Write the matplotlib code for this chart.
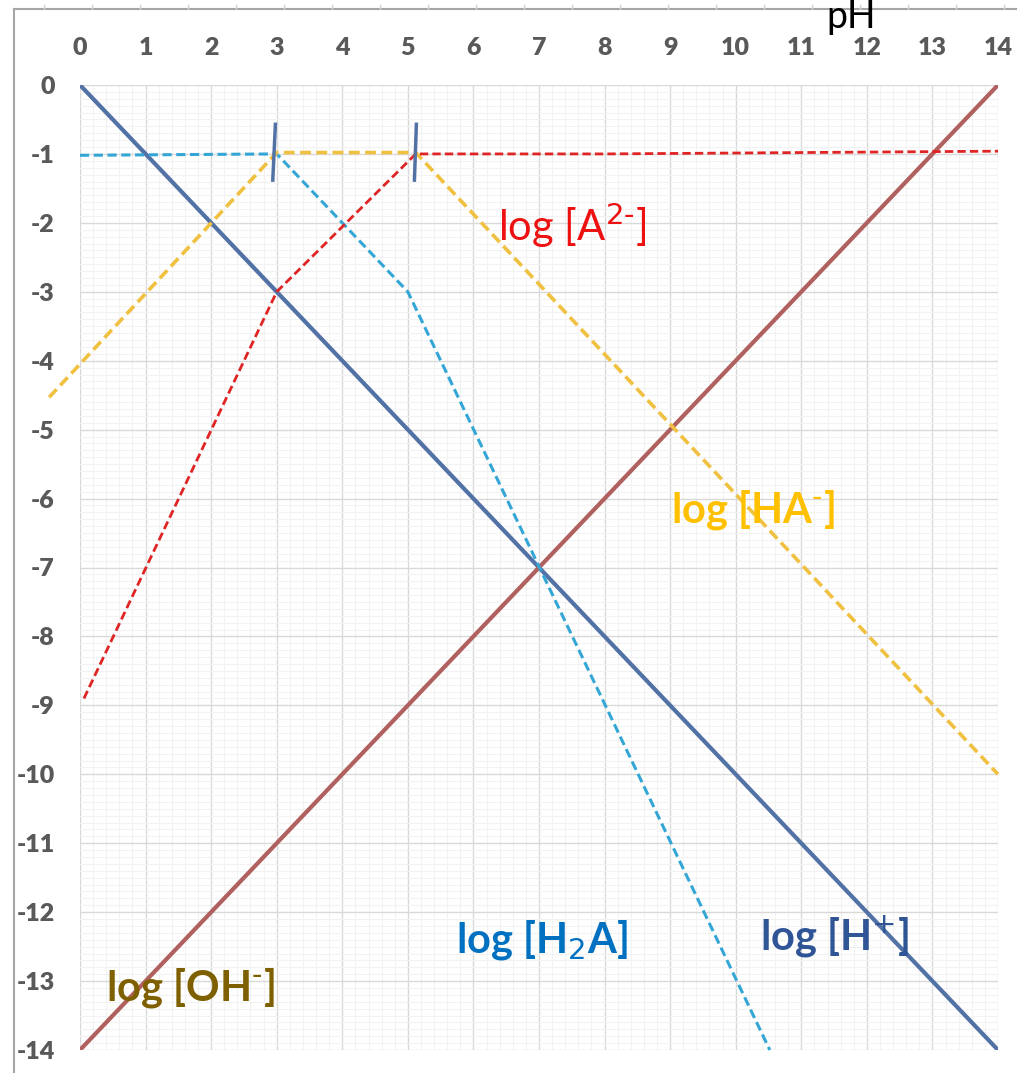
import matplotlib
matplotlib.use("Agg")
import matplotlib.pyplot as plt
from matplotlib.lines import Line2D
import numpy as np

plt.rcParams['font.family'] = ['Lato', 'DejaVu Sans']
plt.rcParams['axes.unicode_minus'] = False

# ---- data ----
ph_ticks = list(range(0, 15))
log_ticks = list(range(0, -15, -1))

h_x = [0, 14]
h_y = [0, -14]
oh_x = [0, 14]
oh_y = [-14, 0]
h2a_x = [0.0, 3.0, 5.0, 10.52]
h2a_y = [-1.02, -1.0, -3.0, -14.0]
ha_x = [-0.47, 3.0, 5.12, 14.0]
ha_y = [-4.53, -0.98, -0.98, -10.0]
a_x = [0.06, 3.0, 5.12, 8.0, 14.0]
a_y = [-8.9, -3.0, -1.0, -1.0, -0.96]
mark_x = [(2.98, 2.94), (5.13, 5.1)]
mark_y = (-0.57, -1.38)

labels = [
    ("log [A$^{2\\text{-}}$]", 7.5, -2.03, '#ee1111', 'normal'),
    ("log [HA$^{\\text{-}}$]", 10.26, -6.17, '#ffc000', 'bold'),
    ("log [H$_{2}$A]", 7.05, -12.4, '#0070c0', 'bold'),
    ("log [H$^{+}$]", 11.51, -12.35, '#2f5597', 'bold'),
    ("log [OH$^{\\text{-}}$]", 1.68, -13.1, '#7f6000', 'bold'),
]

W, H = 1017, 1073
fig = plt.figure(figsize=(W / 100, H / 100), dpi=100)
ax = fig.add_axes([80 / W, 1 - 1050 / H, (998 - 80) / W, (1050 - 85) / H])
ax.set_xlim(0, 14)
ax.set_ylim(-14, 0)

ax.set_xticks(ph_ticks)
ax.set_yticks(log_ticks)
ax.set_xticks(np.arange(0, 14.01, 0.2), minor=True)
ax.set_yticks(np.arange(-14, 0.01, 0.1), minor=True)
ax.grid(which='major', color='#d9d9d9', linewidth=1.0, zorder=0)
ax.grid(which='minor', color='#f2f2f2', linewidth=0.8, zorder=0)
ax.set_axisbelow(True)
for s in ax.spines.values():
    s.set_visible(False)
ax.xaxis.tick_top()
ax.tick_params(which='both', length=0)
ax.tick_params(axis='x', pad=19, labelsize=18, labelcolor='#595959')
ax.tick_params(axis='y', pad=18, labelsize=18, labelcolor='#595959')
ax.set_xticklabels([str(v) for v in ph_ticks], fontweight='heavy')
ax.set_yticklabels([str(v) for v in log_ticks], fontweight='heavy')

ax.plot(h_x, h_y, color='#5272a6', lw=3, solid_capstyle='round', zorder=3)
ax.plot(oh_x, oh_y, color='#b0605e', lw=3, solid_capstyle='round', zorder=3)
ax.plot(h2a_x, h2a_y, color='#33a6d6', lw=2.2, ls=(0, (3, 1.5)), zorder=4, clip_on=False)
ax.plot(ha_x, ha_y, color='#f0c040', lw=2.6, ls=(0, (3, 1.5)), zorder=4, clip_on=False)
ax.plot(a_x, a_y, color='#e02424', lw=2.0, ls=(0, (3, 1.5)), zorder=5, clip_on=False)
for mx in mark_x:
    ax.plot(mx, mark_y, color='#5272a6', lw=2.5, zorder=6)

for txt, x, y, c, w in labels:
    ax.text(x, y, txt, color=c, fontsize=30, fontweight=w, ha='center', va='center', zorder=7)

fig.text(851 / W, 1 - 17 / H, 'pH', fontsize=27, color='black', ha='center', va='center')

# outer chart-area frame
fig.add_artist(Line2D([14 / W, 1.0], [1 - 9 / H, 1 - 9 / H], color='#a6a6a6', lw=1.5))
fig.add_artist(Line2D([14 / W, 14 / W], [0, 1 - 9 / H], color='#a6a6a6', lw=1.5))
for px in np.arange(44, W, 48):
    fig.add_artist(Line2D([px / W, px / W], [1 - 9 / H, 1 - 5 / H], color='#d0d0d0', lw=1))

fig.savefig('out.png', dpi=100)
